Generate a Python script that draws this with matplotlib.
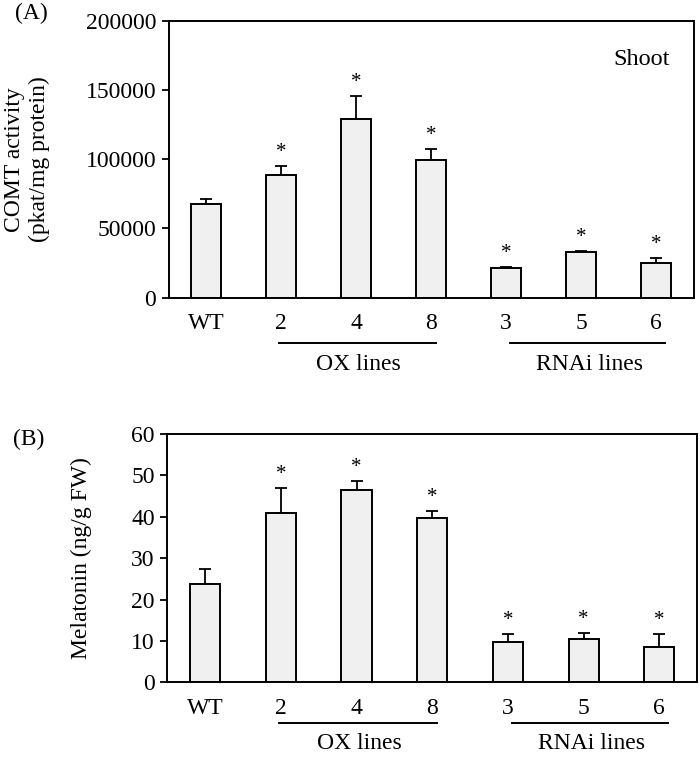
import matplotlib.pyplot as plt

plt.rcParams['font.family'] = ['Liberation Serif', 'DejaVu Serif']

lines = ["WT", "2", "4", "8", "3", "5", "6"]
comt = [67500, 88500, 129000, 99500, 21500, 33000, 24800]
comt_err = [3700, 6700, 17000, 8000, 700, 500, 4000]
comt_sig = [False, True, True, True, True, True, True]
mel = [23.7, 41.0, 46.5, 39.7, 9.7, 10.5, 8.5]
mel_err = [3.7, 5.9, 2.1, 1.6, 1.9, 1.4, 3.1]
mel_sig = [False, True, True, True, True, True, True]
groups = ["OX lines", "RNAi lines"]
group_span = [(0.97, 3.06), (4.05, 6.12)]

FS = 17

fig = plt.figure(figsize=(7, 7.61), dpi=100)
ax1 = fig.add_axes([0.241, 0.609, 0.75, 0.363])
ax2 = fig.add_axes([0.239, 0.1034, 0.757, 0.3263])

x = list(range(len(lines)))


def draw_panel(ax, vals, errs, sig, ymax, step, ylabel, letter, letter_y):
    ax.bar(x, vals, width=0.4, color='#f0f0f0', edgecolor='black', linewidth=1.4, zorder=2)
    ax.errorbar(x, vals, yerr=[[0] * len(errs), errs], fmt='none', ecolor='black',
                elinewidth=1.3, capsize=4, capthick=1.3, zorder=1)
    for xi, v, e, s in zip(x, vals, errs, sig):
        if s:
            ax.annotate('*', (xi, v + e), xytext=(0, 3), textcoords='offset points',
                        ha='center', va='bottom', fontsize=15)
    ax.set_xlim(-0.5, 6.5)
    ax.set_ylim(0, ymax)
    ax.set_yticks(range(0, ymax + 1, step))
    ax.set_xticks(x)
    ax.set_xticklabels(lines)
    ax.tick_params(axis='x', length=0, pad=11, labelsize=FS)
    ax.tick_params(axis='y', direction='out', length=5, width=1.3, labelsize=FS, pad=4)
    for sp in ax.spines.values():
        sp.set_linewidth(1.4)
    ax.set_ylabel(ylabel, fontsize=FS)
    trans = ax.get_xaxis_transform()
    for (a, b), g in zip(group_span, groups):
        ax.plot([a, b], [-0.165, -0.165], color='black', lw=1.4, transform=trans, clip_on=False)
        ax.text((a + b) / 2 + 0.02, -0.205, g, transform=trans, ha='center', va='top', fontsize=FS)
    ax.text(-0.292, letter_y, letter, transform=ax.transAxes, ha='left', va='center', fontsize=FS)


draw_panel(ax1, comt, comt_err, comt_sig, 200000, 50000,
           "COMT activity\n(pkat/mg protein)", "(A)", 1.03)
ax1.text(0.9, 0.86, "Shoot", transform=ax1.transAxes, ha='center', va='center', fontsize=17.5)
ax1.yaxis.set_label_coords(-0.227, 0.5)

draw_panel(ax2, mel, mel_err, mel_sig, 60, 10, "Melatonin (ng/g FW)", "(B)", 0.98)
ax2.yaxis.set_label_coords(-0.142, 0.5)

fig.savefig("out.png", dpi=100)
